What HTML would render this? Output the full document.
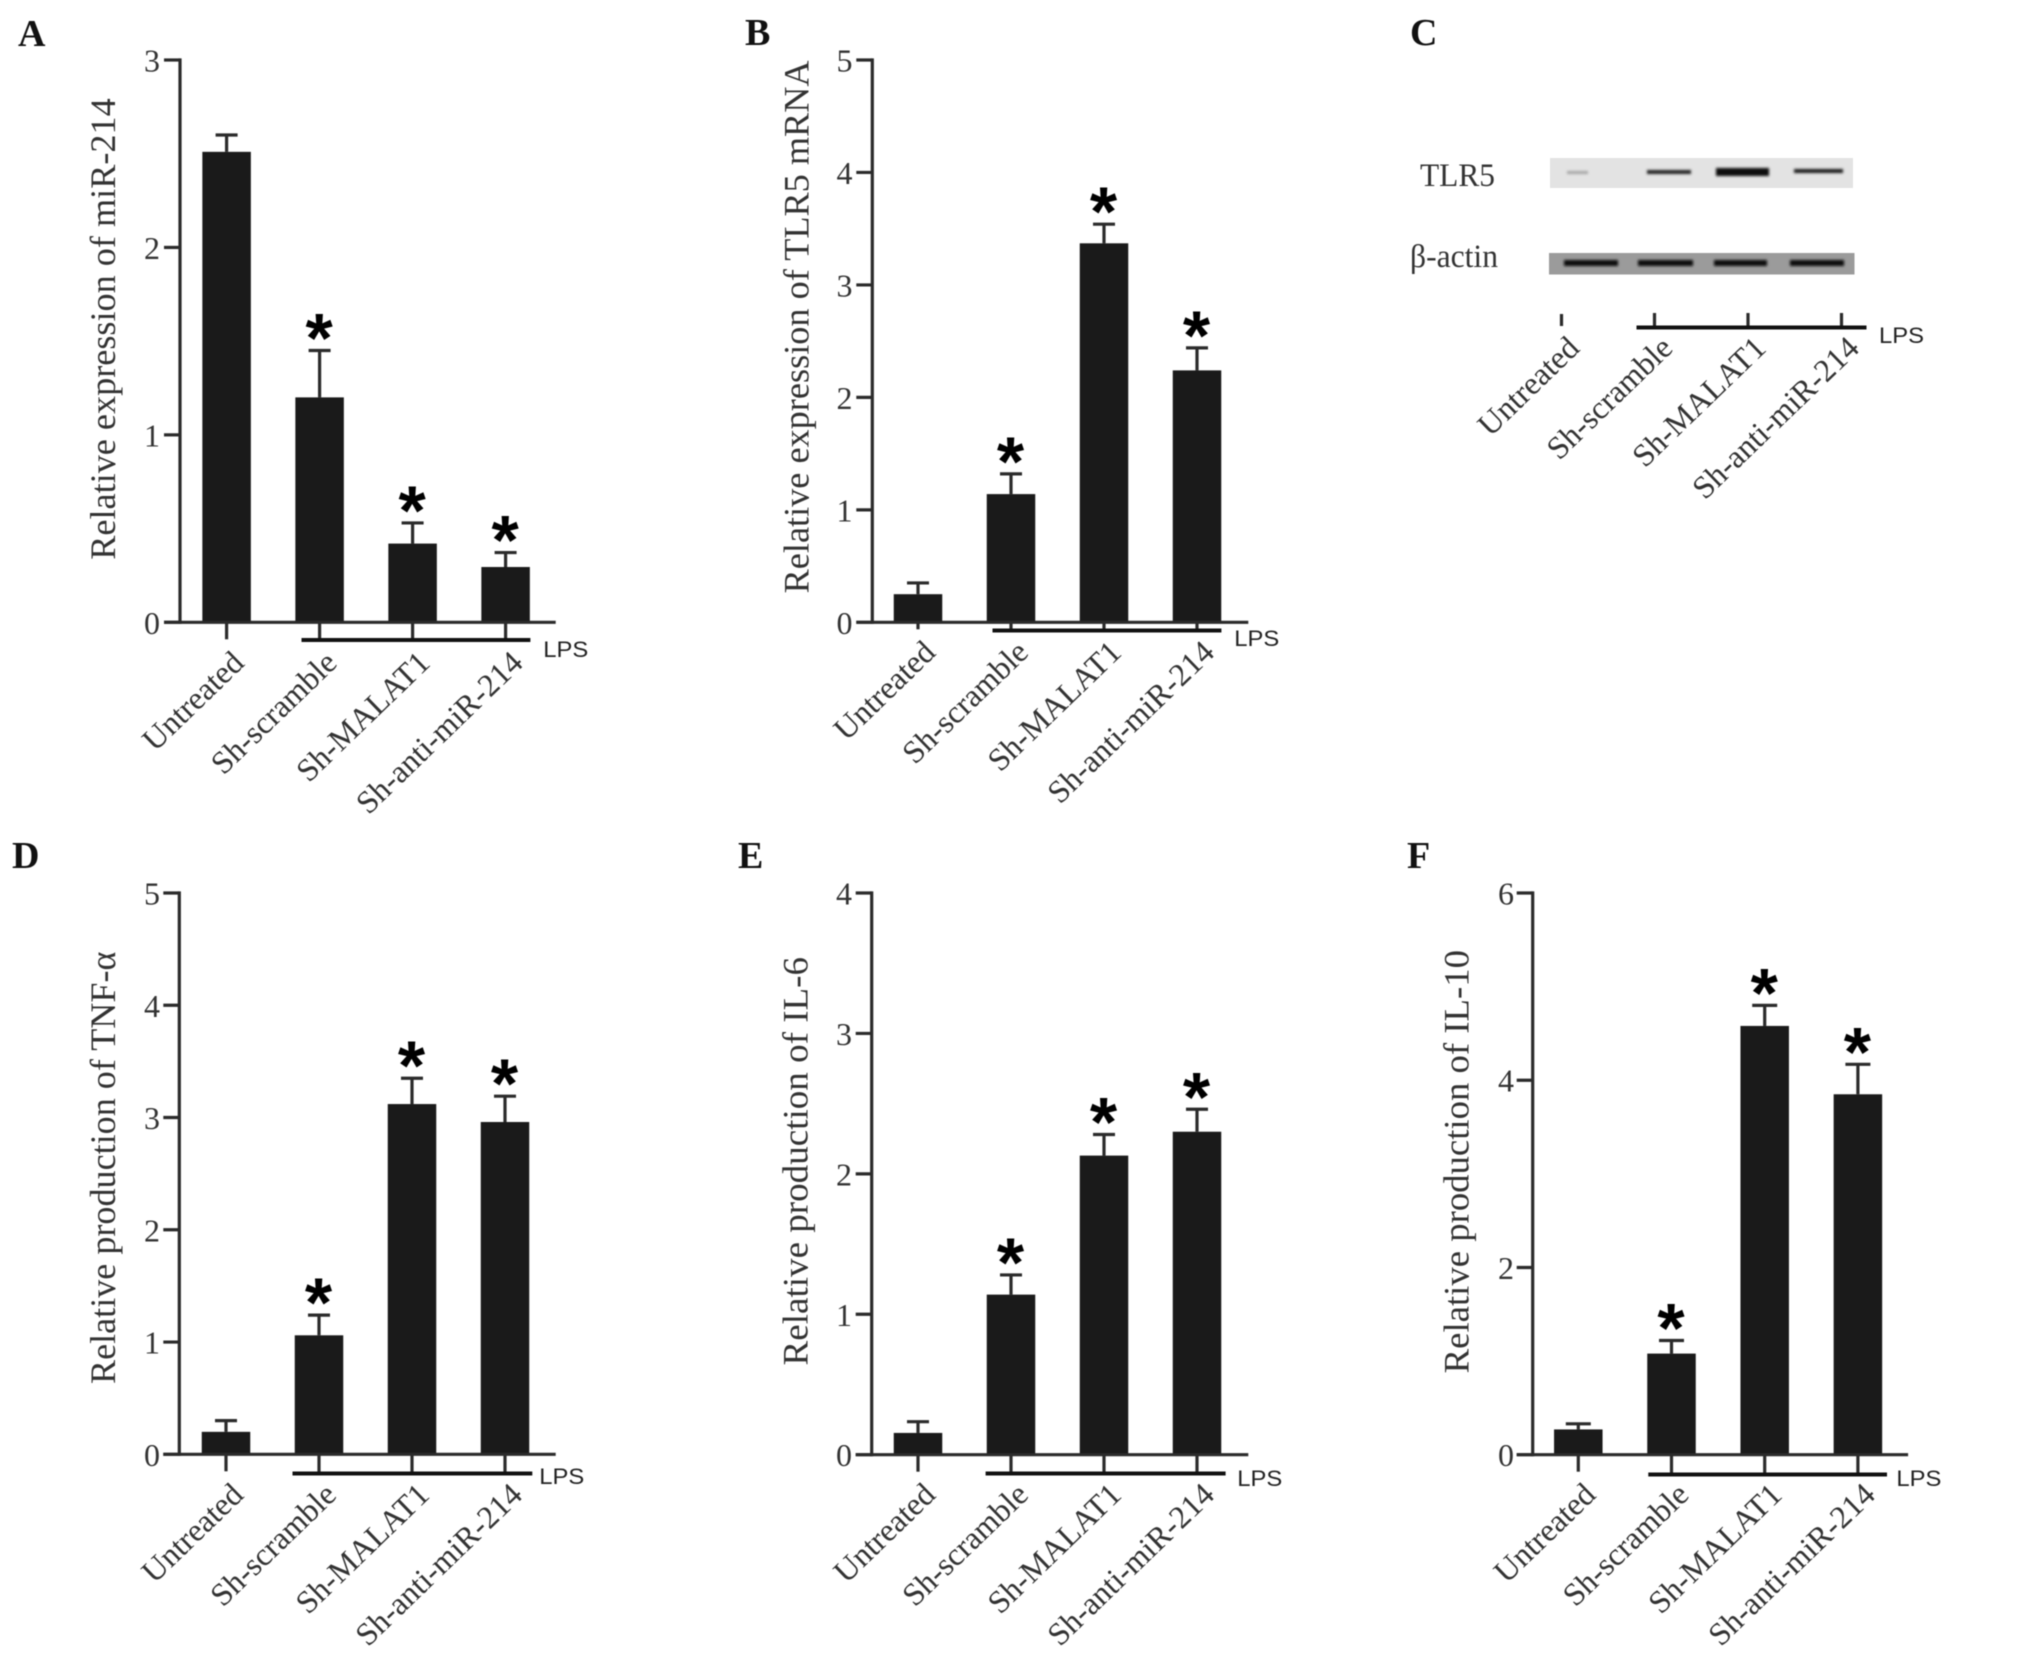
<!DOCTYPE html>
<html lang="en">
<head>
<meta charset="utf-8">
<title>Relative expression and production panels</title>
<style>
html,body{margin:0;padding:0;background:#fff;}
#figure{display:block;width:2031px;height:1665px;background:#fff;filter:blur(0.6px);}
text{font-family:"Liberation Serif",serif;fill:#333;}
.sans{font-family:"Liberation Sans",sans-serif;}
</style>
</head>
<body>
<svg id="figure" xmlns="http://www.w3.org/2000/svg" width="2031" height="1665" viewBox="0 0 2031 1665">
  <defs>
    <filter id="soft" x="-20%" y="-100%" width="140%" height="300%"><feGaussianBlur stdDeviation="1.3"></feGaussianBlur></filter>
  </defs>
  <g>
    <rect x="1559" y="158" width="303" height="30" fill="#e3e3e3" transform="translate(-9 0)"></rect>
    <g filter="url(#soft)">
      <rect x="1567" y="171" width="21" height="3" fill="#a5a5a5"></rect>
      <rect x="1647" y="170" width="44" height="4" fill="#222"></rect>
      <rect x="1716" y="168" width="53" height="8" fill="#0d0d0d"></rect>
      <rect x="1794" y="169" width="49" height="4" fill="#1a1a1a"></rect>
    </g>
    <rect x="1549" y="253" width="305.5" height="21.5" fill="#9b9b9b"></rect>
    <g filter="url(#soft)">
      <rect x="1564" y="260" width="54" height="6" fill="#080808"></rect>
      <rect x="1638" y="260" width="55" height="6" fill="#080808"></rect>
      <rect x="1714" y="260" width="53" height="6" fill="#080808"></rect>
      <rect x="1790" y="260" width="54" height="6" fill="#080808"></rect>
    </g>
    <text x="1420" y="186" font-size="33" textLength="75" lengthAdjust="spacingAndGlyphs">TLR5</text>
    <text x="1410" y="267" font-size="33" textLength="88" lengthAdjust="spacingAndGlyphs">β-actin</text>
  </g>
</svg>
<script>
const categories = ['Untreated', 'Sh-scramble', 'Sh-MALAT1', 'Sh-anti-miR-214'];

const ticksA = [0, 1, 2, 3];
const valuesA = [2.51, 1.2, 0.42, 0.295];
const errorsA = [0.09, 0.25, 0.11, 0.077];
const starsA = [false, true, true, true];

const ticksB = [0, 1, 2, 3, 4, 5];
const valuesB = [0.25, 1.14, 3.37, 2.24];
const errorsB = [0.1, 0.18, 0.17, 0.2];
const starsB = [false, true, true, true];

const ticksD = [0, 1, 2, 3, 4, 5];
const valuesD = [0.2, 1.06, 3.12, 2.96];
const errorsD = [0.1, 0.18, 0.23, 0.23];
const starsD = [false, true, true, true];

const ticksE = [0, 1, 2, 3, 4];
const valuesE = [0.155, 1.14, 2.13, 2.3];
const errorsE = [0.08, 0.14, 0.15, 0.16];
const starsE = [false, true, true, true];

const ticksF = [0, 2, 4, 6];
const valuesF = [0.27, 1.08, 4.58, 3.85];
const errorsF = [0.06, 0.14, 0.22, 0.32];
const starsF = [false, true, true, true];

const svg = document.getElementById('figure');
const NS = 'http://www.w3.org/2000/svg';

function make(tag, attrs, parent, content) {
  const el = document.createElementNS(NS, tag);
  for (const k in attrs) el.setAttribute(k, attrs[k]);
  if (content !== undefined) el.textContent = content;
  parent.appendChild(el);
  return el;
}
function slug(s) {
  return s.toLowerCase().replace(/[^a-z0-9]+/g, '-');
}
const lineStyle = { stroke: '#2b2b2b', 'stroke-width': 3.2 };

const panelLetters = [
  { t: 'A', x: 18, y: 46 }, { t: 'B', x: 745, y: 45 }, { t: 'C', x: 1410, y: 45 },
  { t: 'D', x: 12, y: 868 }, { t: 'E', x: 738, y: 868 }, { t: 'F', x: 1407, y: 868 }
];
panelLetters.forEach(function (p) {
  const el = make('text', { x: p.x, y: p.y, 'font-size': 38, 'font-weight': 'bold', style: 'fill:#111' }, svg, p.t);
  
  
});

const panels = [
  { id: 'a', title: 'Relative expression of miR-214', values: valuesA, errors: errorsA, ticks: ticksA, stars: starsA,
    axisX: 180, top: 60, zero: 622.3, xEnd: 555.7, first: 226.6, step: 93, titleX: 115, titleMid: 329, titleLen: 461.5,
    tickRight: 160, lpsY: 640, lpsX1: 301.5, lpsX2: 530.4, lpsTextX: 543.3, lpsTextY: 657, labelDy: 42.5, capW: 22, untreatedTick: 17, barW: 48.5 },
  { id: 'b', title: 'Relative expression of TLR5 mRNA', values: valuesB, errors: errorsB, ticks: ticksB, stars: starsB,
    axisX: 872.3, top: 60, zero: 622.3, xEnd: 1248.3, first: 918, step: 93, titleX: 808.5, titleMid: 326.9, titleLen: 533,
    tickRight: 852.5, lpsY: 630.5, lpsX1: 992.5, lpsX2: 1221.4, lpsTextX: 1234.3, lpsTextY: 646, labelDy: 32, capW: 22, untreatedTick: 7, barW: 48.5 },
  { id: 'd', title: 'Relative production of TNF-α', values: valuesD, errors: errorsD, ticks: ticksD, stars: starsD,
    axisX: 179.3, top: 893, zero: 1454.3, xEnd: 555.7, first: 226, step: 93, titleX: 115, titleMid: 1167.8, titleLen: 432.4,
    tickRight: 160, lpsY: 1473.5, lpsX1: 292.5, lpsX2: 532.3, lpsTextX: 539.3, lpsTextY: 1484, labelDy: 42.5, capW: 22, untreatedTick: 17, barW: 48.5 },
  { id: 'e', title: 'Relative production of IL-6', values: valuesE, errors: errorsE, ticks: ticksE, stars: starsE,
    axisX: 871.7, top: 893, zero: 1454.7, xEnd: 1248.3, first: 918, step: 93, titleX: 807.5, titleMid: 1161.2, titleLen: 408.5,
    tickRight: 852, lpsY: 1473.5, lpsX1: 985.6, lpsX2: 1225.6, lpsTextX: 1237.3, lpsTextY: 1486, labelDy: 42, capW: 22, untreatedTick: 17, barW: 48.5 },
  { id: 'f', title: 'Relative production of IL-10', values: valuesF, errors: errorsF, ticks: ticksF, stars: starsF,
    axisX: 1532.7, top: 893, zero: 1454.7, xEnd: 1908.1, first: 1578.3, step: 93.2, titleX: 1468.4, titleMid: 1161.7, titleLen: 423.3,
    tickRight: 1514, lpsY: 1474.5, lpsX1: 1648.3, lpsX2: 1887, lpsTextX: 1896.4, lpsTextY: 1486, labelDy: 42, capW: 25, untreatedTick: 17, barW: 48.5 }
];

function drawLpsText(g, x, y) {
  const el = make('text', { x: x, y: y, 'font-size': 22, 'class': 'sans', textLength: 45, lengthAdjust: 'spacingAndGlyphs', style: 'fill:#222' }, g, 'LPS');
  
  
}

function drawCategoryLabel(g, name, x, y) {
  const el = make('text', { x: x, y: y, 'font-size': 32, 'text-anchor': 'end', transform: 'rotate(-44 ' + x + ' ' + y + ')' }, g, name);
  
  
}

panels.forEach(function (p) {
  const g = make('g', {}, svg);
  
  

  const maxV = p.ticks[p.ticks.length - 1];
  const yScale = function (v) { return p.zero - (v / maxV) * (p.zero - p.top); };
  const xScale = function (i) { return p.first + p.step * i; };

  const title = make('text', { x: p.titleX, y: p.titleMid, 'font-size': 36, 'text-anchor': 'middle', textLength: p.titleLen, lengthAdjust: 'spacingAndGlyphs', transform: 'rotate(-90 ' + p.titleX + ' ' + p.titleMid + ')' }, g, p.title);
  
  

  p.ticks.forEach(function (t) {
    const y = yScale(t);
    const tick = make('line', Object.assign({ x1: p.axisX - 16, x2: p.axisX, y1: y, y2: y }, lineStyle), g);
    
    
    const label = make('text', { x: p.tickRight, y: y + 11.5, 'font-size': 32, 'text-anchor': 'end' }, g, String(t));
    
    
  });

  p.values.forEach(function (v, i) {
    const cx = xScale(i);
    const top = yScale(v);
    const errTop = yScale(v + p.errors[i]);
    const cat = slug(categories[i]);

    const errLine = make('line', Object.assign({ x1: cx, x2: cx, y1: top, y2: errTop }, lineStyle), g);
    
    
    const cap = make('line', Object.assign({ x1: cx - p.capW / 2, x2: cx + p.capW / 2, y1: errTop, y2: errTop }, lineStyle), g);
    
    

    const bar = make('rect', { x: cx - p.barW / 2, y: top, width: p.barW, height: p.zero - top, fill: '#1a1a1a' }, g);
    
    

    if (p.stars[i]) {
      const star = make('text', { x: cx - 0.5, y: errTop + 11.5, 'font-size': 70, 'font-weight': 'bold', 'text-anchor': 'middle', 'class': 'sans', style: 'fill:#000' }, g, '*');
      
      
    }

    const lowTick = make('line', Object.assign({ x1: cx, x2: cx, y1: p.zero, y2: i === 0 ? p.zero + p.untreatedTick : p.lpsY }, lineStyle), g);
    
    

    drawCategoryLabel(g, categories[i], cx + 19, p.zero + p.labelDy);
  });

  const yAxis = make('line', Object.assign({ x1: p.axisX, x2: p.axisX, y1: p.top - 1.6, y2: p.zero + 1.6 }, lineStyle), g);
  
  
  const xAxis = make('line', Object.assign({ x1: p.axisX - 16, x2: p.xEnd, y1: p.zero, y2: p.zero }, lineStyle), g);
  
  

  const lps = make('line', { x1: p.lpsX1, x2: p.lpsX2, y1: p.lpsY, y2: p.lpsY, stroke: '#111', 'stroke-width': 4 }, g);
  
  
  drawLpsText(g, p.lpsTextX, p.lpsTextY);
});

/* Crop edge that hides the bottom of the panel B label in the source figure */
const cropEdge = make('rect', { x: 1035, y: 806, width: 70, height: 16, fill: '#fff' }, svg);



/* Panel C labels and bracket */
const cFirst = 1581;
const cStep = 93.3;
const cLabelY = 350;
const gc = make('g', {}, svg);


categories.forEach(function (name, i) {
  drawCategoryLabel(gc, name, cFirst + cStep * i, cLabelY);
});
[1561.5, 1654.5, 1748, 1841.5].forEach(function (x, i) {
  const t = make('line', Object.assign({ x1: x, x2: x, y1: i === 0 ? 314 : 313, y2: i === 0 ? 326 : 327 }, lineStyle), gc);
  
  
});
const cLps = make('line', { x1: 1636.5, x2: 1866.5, y1: 327.5, y2: 327.5, stroke: '#111', 'stroke-width': 4 }, gc);


drawLpsText(gc, 1879, 343);
</script>
</body>
</html>
